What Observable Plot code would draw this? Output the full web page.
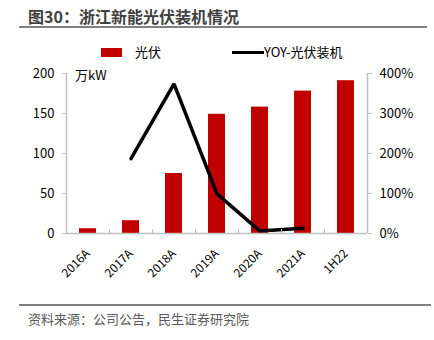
<!DOCTYPE html>
<html><head><meta charset="utf-8">
<script src="https://cdn.jsdelivr.net/npm/d3@7"></script>
<script src="https://cdn.jsdelivr.net/npm/@observablehq/plot@0.6"></script>
<style>
body{margin:0;background:#fff;font-family:"Noto Sans CJK SC","Noto Sans",sans-serif;}
#wrap{position:relative;width:434px;height:340px;overflow:hidden;}
#wrap svg{position:absolute;left:0;top:0;}
.t{position:absolute;white-space:nowrap;}
</style></head>
<body><div id="wrap">
<div class="t" style="left:28px;top:4px;font-size:16px;font-weight:bold;color:#404040;">图30：浙江新能光伏装机情况</div>
<div style="position:absolute;left:19px;top:26px;width:408px;height:2px;background:#808080"></div>
<div style="position:absolute;left:101px;top:48px;width:21px;height:9px;background:#c00000"></div>
<div class="t" style="left:135px;top:42px;font-size:13px;color:#000;">光伏</div>
<div style="position:absolute;left:232px;top:51px;width:32px;height:3px;background:#000"></div>
<div class="t" style="left:264px;top:42px;font-size:13px;color:#000;">YOY-光伏装机</div>
<div class="t" style="left:75px;top:65px;font-size:13px;color:#000;">万kW</div>
<div style="position:absolute;left:19px;top:304px;width:412px;height:2px;background:#808080"></div>
<div class="t" style="left:28px;top:309px;font-size:13px;color:#595959;">资料来源：公司公告，民生证券研究院</div>
</div>
<script>
const categories = ["2016A","2017A","2018A","2019A","2020A","2021A","1H22"];
const pvCapacity = [6, 16, 75, 149, 158, 178, 191];
const yoyPct = [null, 187, 374, 99, 6, 13, null];
const leftTicks = [0, 50, 100, 150, 200];

const idx = categories.map((c, i) => i);
const bars = categories.map((c, i) => ({i, v: pvCapacity[i]}));
const line = categories.map((c, i) => ({i, p: yoyPct[i]})).filter(d => d.p != null);
const labels = categories.map((c, i) => ({i, c}));
const boundaries = d3.range(1, categories.length);

const chart = Plot.plot({
  width: 434, height: 340,
  marginTop: 73, marginBottom: 107, marginLeft: 66, marginRight: 67,
  style: {fontFamily: '"Noto Sans CJK SC","Noto Sans",sans-serif', fontSize: "13px", color: "#000", background: "transparent"},
  x: {type: "linear", domain: [0, categories.length]},
  y: {domain: [0, 200]},
  marks: [
    Plot.rectY(bars, {x1: "i", x2: d => d.i + 1, y: "v", fill: "#c00000", insetLeft: 13, insetRight: 13}),
    Plot.line(line, {x: d => d.i + 0.5, y: d => d.p / 2, stroke: "#000", strokeWidth: 3.5, strokeLinejoin: "miter"}),
    Plot.axisY({anchor: "left", ticks: leftTicks, tickSize: 4, tickPadding: 8, stroke: "#bfbfbf", color: "#000", fontSize: 13, label: null}),
    Plot.axisY({anchor: "right", ticks: leftTicks, tickSize: 4, tickPadding: 8, stroke: "#bfbfbf", color: "#000", fontSize: 13, label: null, tickFormat: d => (d * 2) + "%"}),
    Plot.ruleX([0, categories.length], {stroke: "#bfbfbf", strokeWidth: 1.5}),
    Plot.ruleY([0], {stroke: "#bfbfbf", strokeWidth: 1.5}),
    Plot.axisX({ticks: boundaries, tickSize: -4, stroke: "#bfbfbf", tickFormat: () => "", label: null}),
    Plot.text(labels, {x: d => d.i + 0.5, y: 0, text: "c", rotate: -45, textAnchor: "end", lineAnchor: "middle", dx: 0, dy: 18, fontSize: 12, fill: "#000"})
  ]
});
document.getElementById("wrap").prepend(chart);
</script>
</body></html>
